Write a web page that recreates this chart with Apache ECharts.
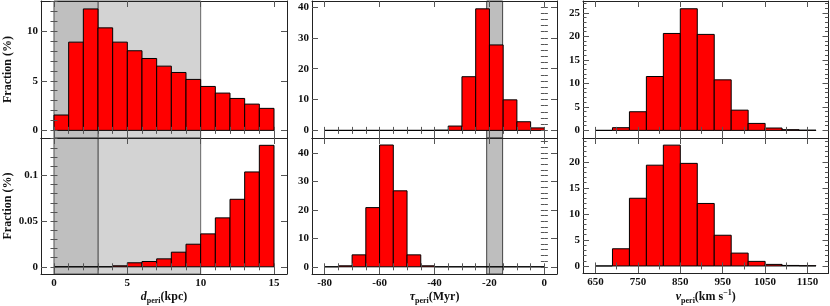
<!DOCTYPE html>
<html><head><meta charset="utf-8">
<script src="https://cdn.jsdelivr.net/npm/echarts@6/dist/echarts.min.js"></script>
<style>html,body{margin:0;padding:0;background:#fff}#c{width:830px;height:306px}</style>
</head><body><div id="c"></div><script>
// ---- data ----
const dEdges = [0,1,2,3,4,5,6,7,8,9,10,11,12,13,14,15];
const dFracTop = [1.55,8.9,12.25,10.34,8.9,8.03,7.25,6.48,5.84,5.14,4.43,3.76,3.22,2.65,2.22];
const dFracBottom = [0,0,0,0,0.0011,0.0044,0.0058,0.0087,0.016,0.0247,0.036,0.0535,0.0738,0.1037,0.1328];
const tauEdges = [-80,-75,-70,-65,-60,-55,-50,-45,-40,-35,-30,-25,-20,-15,-10,-5,0];
const tauFracTop = [0,0,0,0,0,0,0,0,0.08,1.4,17.4,39.4,27.7,9.9,2.8,0.8];
const tauFracBottom = [0,0.35,4.2,20.8,42.8,26.7,4.2,0.35,0,0,0,0,0,0,0,0];
const vEdges = [650,690,730,770,810,850,890,930,970,1010,1050,1090,1130,1170];
const vFracTop = [0,0.57,3.96,11.45,20.6,25.85,20.4,10.74,4.3,1.48,0.5,0.15,0.05];
const vFracBottom = [0,3.3,13.0,19.35,23.2,19.7,12.0,5.9,2.47,0.88,0.3,0.1,0.05];
const dShadeDark = [0,3];
const dShadeLight = [3,10];
const tauBand = [-21,-15.2];
const dTickLabels = [0,5,10,15];
const tauTickLabels = [-80,-60,-40,-20,0];
const vTickLabels = [650,750,850,950,1050,1150];
const yTickLabelsTop = [[0,5,10],[0,10,20,30,40],[0,5,10,15,20,25]];
const yTickLabelsBottom = [[0,0.05,0.1],[0,10,20,30,40],[0,5,10,15,20]];

// ---- layout / style ----
const FONT = 'Liberation Serif';
function steps(a,b,s){const o=[];const n=Math.round((b-a)/s);for(let i=0;i<=n;i++)o.push(+(a+i*s).toFixed(6));return o;}
const colX = [
  {left:41, width:246, range:[-0.886,15.886], majors:dTickLabels, minors:steps(0,15,1)},
  {left:312, width:245, range:[-84.6,4.6], majors:tauTickLabels, minors:steps(-80,0,5)},
  {left:583, width:245.5, range:[620.5,1199.5], majors:vTickLabels, minors:steps(650,1150,50)}
];
const rowY = [{top:1,height:137},{top:138,height:136.5}];
const yRanges = [[[-0.77,13.05],[-2.47,41.94],[-1.62,27.5]],[[-0.00786,0.1408],[-2.53,45.26],[-1.37,24.57]]];
const yMinors = [[steps(0,13,1),steps(0,40,2),steps(0,27,1)],[steps(0,0.14,0.01),steps(0,44,2),steps(0,24,1)]];
const yMajors = [yTickLabelsTop, yTickLabelsBottom];
const hist = [[dFracTop,tauFracTop,vFracTop],[dFracBottom,tauFracBottom,vFracBottom]];
const edges = [dEdges,tauEdges,vEdges];
const richStyle = {
  i:{fontFamily:FONT,fontStyle:'italic',fontWeight:'bold',fontSize:12,color:'#111'},
  s:{fontFamily:FONT,fontWeight:'bold',fontSize:8,padding:[8,0,0,0],color:'#111'},
  b:{fontFamily:FONT,fontWeight:'bold',fontSize:12,color:'#111'},
  p:{fontFamily:FONT,fontWeight:'bold',fontSize:8,padding:[0,0,8,0],color:'#111'}
};
const xNames = ['{i|d}{s|peri}{b|(kpc)}','{i|τ}{s|peri}{b|(Myr)}','{i|v}{s|peri}{b|(km s}{p|−1}{b|)}'];
const LINE = '#222', TICK = '#555';
const fmt = v => String(+(+v).toFixed(4));

const grid=[], xAxis=[], yAxis=[], series=[];
for (let r=0;r<2;r++) for (let c=0;c<3;c++){
  const g = grid.length;
  grid.push({left:colX[c].left, top:rowY[r].top, width:colX[c].width, height:rowY[r].height, containLabel:false});
  const xr = colX[c].range, yr = yRanges[r][c];
  const base = {gridIndex:g, type:'value', min:xr[0], max:xr[1], splitLine:{show:false}, z:10};
  ['bottom','top'].forEach(pos=>{
    xAxis.push(Object.assign({}, base, {position:pos,
      axisLine:{show:true,onZero:false,lineStyle:{color:LINE,width:1}},
      axisTick:{show:true,inside:true,length:6,customValues:colX[c].majors,lineStyle:{color:TICK}},
      axisLabel:{show:(pos==='bottom'&&r===1),customValues:colX[c].majors,margin:4,formatter:fmt,
        fontFamily:FONT,fontWeight:'bold',fontSize:11,color:'#111'},
      name:(pos==='bottom'&&r===1)?xNames[c]:'', nameLocation:'middle', nameGap:15,
      nameTextStyle:{fontFamily:FONT,fontWeight:'bold',fontSize:12,color:'#111',rich:richStyle}
    }));
    xAxis.push(Object.assign({}, base, {position:pos,
      axisLine:{show:false}, axisLabel:{show:false},
      axisTick:{show:true,inside:true,length:3.5,customValues:colX[c].minors,lineStyle:{color:TICK}}}));
  });
  const ybase = {gridIndex:g, type:'value', min:yr[0], max:yr[1], splitLine:{show:false}, z:10};
  ['left','right'].forEach(pos=>{
    yAxis.push(Object.assign({}, ybase, {position:pos,
      axisLine:{show:true,onZero:false,lineStyle:{color:LINE,width:1}},
      axisTick:{show:true,inside:true,length:6,customValues:yMajors[r][c],lineStyle:{color:TICK}},
      axisLabel:{show:pos==='left',customValues:yMajors[r][c],margin:3,formatter:fmt,
        fontFamily:FONT,fontWeight:'bold',fontSize:11,color:'#111'},
      name:(pos==='left'&&c===0)?'Fraction (%)':'', nameLocation:'middle', nameGap:27, nameRotate:90,
      nameTextStyle:{fontFamily:FONT,fontWeight:'bold',fontSize:12,color:'#111'}
    }));
    yAxis.push(Object.assign({}, ybase, {position:pos,
      axisLine:{show:false}, axisLabel:{show:false},
      axisTick:{show:true,inside:true,length:3.5,customValues:yMinors[r][c],lineStyle:{color:TICK}}}));
  });
  const ax = g*4;
  const shade = (range, fill, stroke) => ({type:'custom', xAxisIndex:ax, yAxisIndex:ax, z:1, silent:true,
    data:[[range[0], range[1]]],
    renderItem:(params, api)=>{
      const cs = params.coordSys;
      const a = api.coord([api.value(0),0])[0], b = api.coord([api.value(1),0])[0];
      return {type:'rect', shape:{x:a,y:cs.y,width:b-a,height:cs.height}, style:{fill:fill,stroke:stroke,lineWidth:1}};
    }});
  if (c===0){ series.push(shade(dShadeLight,'#d3d3d3','#666')); series.push(shade(dShadeDark,'#bfbfbf','#555')); }
  if (c===1){ series.push(shade(tauBand,'#bebebe','#444')); }
  const e = edges[c], vals = hist[r][c];
  series.push({type:'custom', xAxisIndex:ax, yAxisIndex:ax, z:3, silent:true,
    data: vals.map((v,i)=>[e[i], e[i+1], v]),
    renderItem:(params, api)=>{
      const p0 = api.coord([api.value(0),0]), p1 = api.coord([api.value(1),api.value(2)]);
      return {type:'rect', shape:{x:p0[0],y:p1[1],width:p1[0]-p0[0],height:p0[1]-p1[1]},
        style:{fill:'#ff0000',stroke:'#000',lineWidth:1}};
    }});
}
const chart = echarts.init(document.getElementById('c'), null, {renderer:'canvas'});
chart.setOption({animation:false, backgroundColor:'#fff', grid, xAxis, yAxis, series});
</script></body></html>
